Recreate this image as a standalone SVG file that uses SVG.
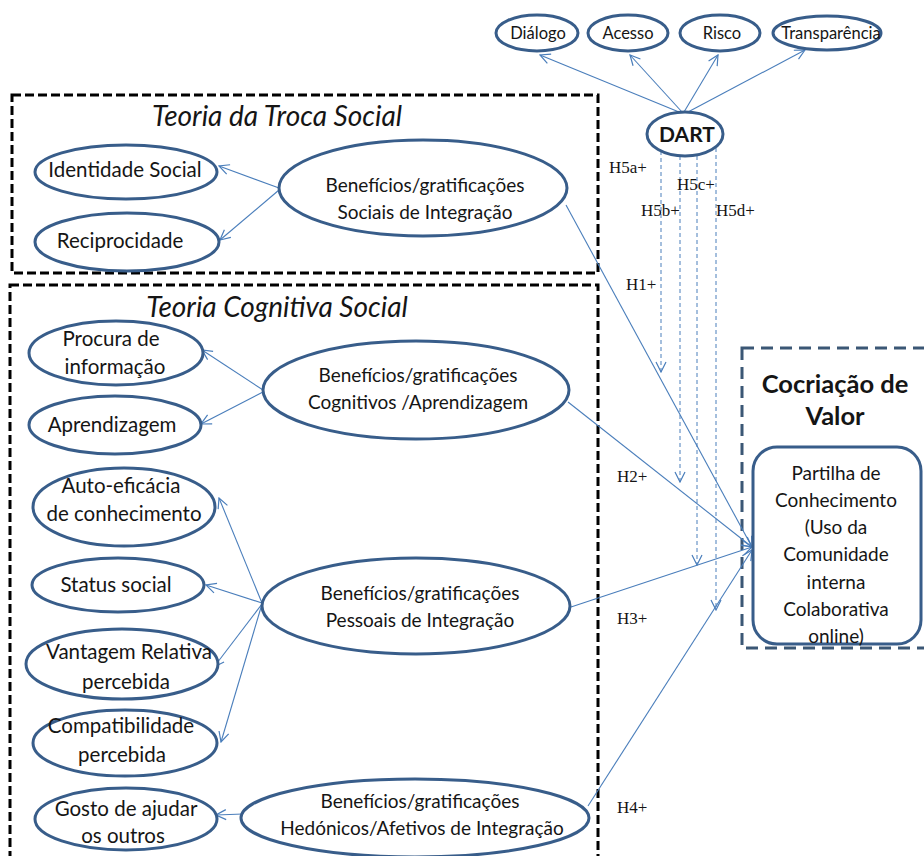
<svg xmlns="http://www.w3.org/2000/svg" width="924" height="856" viewBox="0 0 924 856">
  <defs>
    <style>
      .node { fill: #ffffff; stroke: #385D8A; stroke-width: 3; }
      .lbl { font-family: Lato, "Liberation Sans", sans-serif; font-size: 19px; fill: #151515; text-anchor: middle; }
      .lbs { font-family: Lato, "Liberation Sans", sans-serif; font-size: 20.5px; fill: #151515; text-anchor: middle; }
      .small { font-family: Lato, "Liberation Sans", sans-serif; font-size: 16.5px; fill: #151515; text-anchor: middle; }
      .title { font-family: Lato, "Liberation Sans", sans-serif; font-size: 28px; font-style: italic; fill: #151515; text-anchor: middle; }
      .bold { font-family: Lato, "Liberation Sans", sans-serif; font-weight: bold; fill: #151515; text-anchor: middle; }
      .hyp { font-family: "Liberation Serif", serif; font-size: 17px; fill: #151515; }
      .frame { fill: none; stroke: #000; stroke-width: 3; stroke-dasharray: 9 4; }
      .frame2 { fill: none; stroke: #3B5775; stroke-width: 3; stroke-dasharray: 12 7; }
      .link { fill: none; stroke: #4A7EBB; stroke-width: 1.1; marker-end: url(#arr); }
      .dash { fill: none; stroke: #4A7EBB; stroke-width: 1; stroke-dasharray: 4 3; marker-end: url(#arr); }
    </style>
    <marker id="arr" viewBox="0 0 12 12" refX="11" refY="6" markerWidth="12" markerHeight="12" markerUnits="userSpaceOnUse" orient="auto">
      <path d="M1,1 L11,6 L1,11" fill="none" stroke="#4A7EBB" stroke-width="1.2"/>
    </marker>
  </defs>
  <rect width="924" height="856" fill="#ffffff"/>

  <!-- theory frames -->
  <g id="frame-troca">
    <rect class="frame" x="12" y="95" width="586" height="178"/>
    <text class="title" x="277" y="126">Teoria da Troca Social</text>
  </g>
  <g id="frame-cognitiva">
    <rect class="frame" x="10" y="285" width="588" height="590"/>
    <text class="title" x="277" y="317">Teoria Cognitiva Social</text>
  </g>
  <g id="frame-cocriacao">
    <rect class="frame2" x="742" y="348" width="200" height="300"/>
    <text class="bold" x="835" y="393" font-size="25.5">Cocriação de</text>
    <text class="bold" x="835" y="425" font-size="25.5">Valor</text>
  </g>

  <!-- connectors -->
  <g id="connectors">
    <!-- DART dimensions -->
    <line class="link" x1="679" y1="112" x2="540" y2="55"/>
    <line class="link" x1="682" y1="112" x2="630" y2="55"/>
    <line class="link" x1="684" y1="112" x2="718" y2="55"/>
    <line class="link" x1="688" y1="112" x2="805" y2="50"/>
    <!-- moderating hypotheses -->
    <line class="dash" x1="661" y1="151" x2="661" y2="372"/>
    <line class="dash" x1="680" y1="156" x2="680" y2="482"/>
    <line class="dash" x1="697" y1="156" x2="697" y2="565"/>
    <line class="dash" x1="716" y1="148" x2="716" y2="610"/>
    <!-- social integration -->
    <line class="link" x1="279" y1="188" x2="219" y2="166"/>
    <line class="link" x1="279" y1="190" x2="220" y2="240"/>
    <!-- cognitive -->
    <line class="link" x1="263" y1="390" x2="202" y2="350"/>
    <line class="link" x1="263" y1="392" x2="201" y2="424"/>
    <!-- personal -->
    <line class="link" x1="262" y1="603" x2="219" y2="498"/>
    <line class="link" x1="262" y1="603" x2="206" y2="585"/>
    <line class="link" x1="262" y1="604" x2="214" y2="667"/>
    <line class="link" x1="262" y1="604" x2="221" y2="742"/>
    <!-- hedonic -->
    <line class="link" x1="243" y1="814" x2="216" y2="815"/>
    <!-- H1-H4 -->
    <line class="link" x1="566" y1="205" x2="752" y2="547"/>
    <line class="link" x1="568" y1="402" x2="752" y2="547"/>
    <line class="link" x1="571" y1="607" x2="752" y2="547"/>
    <line class="link" x1="588" y1="806" x2="752" y2="550"/>
  </g>

  <!-- hypothesis labels -->
  <g id="hypotheses">
    <text class="hyp" x="609" y="173">H5a+</text>
    <text class="hyp" x="677" y="190">H5c+</text>
    <text class="hyp" x="641" y="216">H5b+</text>
    <text class="hyp" x="716" y="216">H5d+</text>
    <text class="hyp" x="626" y="290">H1+</text>
    <text class="hyp" x="617" y="482">H2+</text>
    <text class="hyp" x="617" y="624">H3+</text>
    <text class="hyp" x="617" y="813">H4+</text>
  </g>

  <!-- DART -->
  <g id="dialogo"><ellipse class="node" cx="537" cy="33" rx="41" ry="18"/><text class="small" x="538" y="39">Diálogo</text></g>
  <g id="acesso"><ellipse class="node" cx="628" cy="33" rx="40" ry="18"/><text class="small" x="628" y="39">Acesso</text></g>
  <g id="risco"><ellipse class="node" cx="720" cy="33" rx="40" ry="18"/><text class="small" x="722" y="39">Risco</text></g>
  <g id="transparencia"><ellipse class="node" cx="827" cy="33" rx="54" ry="17"/><text class="small" x="831" y="39">Transparência</text></g>
  <g id="dart"><ellipse class="node" cx="685" cy="134" rx="38" ry="22"/><text class="bold" x="687" y="142" font-size="21">DART</text></g>

  <!-- social exchange -->
  <g id="identidade"><ellipse class="node" cx="126" cy="172" rx="91" ry="27"/><text class="lbs" x="125" y="177">Identidade Social</text></g>
  <g id="reciprocidade"><ellipse class="node" cx="127" cy="242" rx="92" ry="29"/><text class="lbs" x="120" y="248">Reciprocidade</text></g>
  <g id="b-sociais"><ellipse class="node" cx="423" cy="188" rx="144" ry="48"/>
    <text class="lbl" x="425" y="192">Benefícios/gratificações</text>
    <text class="lbl" x="425" y="219">Sociais de Integração</text></g>

  <!-- social cognitive -->
  <g id="procura"><ellipse class="node" cx="116" cy="353" rx="87" ry="32"/>
    <text class="lbs" x="111" y="346">Procura de</text><text class="lbs" x="115" y="374">informação</text></g>
  <g id="aprendizagem"><ellipse class="node" cx="115" cy="425" rx="86" ry="29"/><text class="lbs" x="112" y="432">Aprendizagem</text></g>
  <g id="b-cognitivos"><ellipse class="node" cx="416" cy="390" rx="153" ry="49"/>
    <text class="lbl" x="418" y="382">Benefícios/gratificações</text>
    <text class="lbl" x="418" y="409">Cognitivos  /Aprendizagem</text></g>

  <g id="autoeficacia"><ellipse class="node" cx="124" cy="507" rx="91" ry="39"/>
    <text class="lbs" x="121" y="493">Auto-eficácia</text><text class="lbs" x="124" y="521">de conhecimento</text></g>
  <g id="status"><ellipse class="node" cx="118" cy="585" rx="86" ry="27"/><text class="lbs" x="116" y="592">Status social</text></g>
  <g id="vantagem"><ellipse class="node" cx="122" cy="664" rx="96" ry="35"/>
    <text class="lbs" x="129" y="659">Vantagem Relativa</text><text class="lbs" x="126" y="689">percebida</text></g>
  <g id="compatibilidade"><ellipse class="node" cx="125" cy="743" rx="92" ry="33"/>
    <text class="lbs" x="121" y="733">Compatibilidade</text><text class="lbs" x="122" y="762">percebida</text></g>
  <g id="b-pessoais"><ellipse class="node" cx="416" cy="606" rx="154" ry="48"/>
    <text class="lbl" x="420" y="600">Benefícios/gratificações</text>
    <text class="lbl" x="420" y="627">Pessoais de Integração</text></g>

  <g id="gosto"><ellipse class="node" cx="126" cy="819" rx="91" ry="31"/>
    <text class="lbs" x="126" y="816">Gosto de ajudar</text><text class="lbs" x="123" y="843">os outros</text></g>
  <g id="b-hedonicos"><ellipse class="node" cx="415" cy="818" rx="174" ry="39"/>
    <text class="lbl" x="420" y="808">Benefícios/gratificações</text>
    <text class="lbl" x="422" y="835">Hedónicos/Afetivos  de Integração</text></g>

  <!-- outcome -->
  <g id="partilha">
    <rect class="node" x="753" y="447" width="168" height="197" rx="24"/>
    <text class="lbl" x="836" y="480" font-size="19.5">Partilha de</text>
    <text class="lbl" x="836" y="507" font-size="19.5">Conhecimento</text>
    <text class="lbl" x="836" y="534" font-size="19.5">(Uso da</text>
    <text class="lbl" x="836" y="561" font-size="19.5">Comunidade</text>
    <text class="lbl" x="836" y="589" font-size="19.5">interna</text>
    <text class="lbl" x="836" y="616" font-size="19.5">Colaborativa</text>
    <text class="lbl" x="836" y="643" font-size="19.5">online)</text>
  </g>
</svg>
